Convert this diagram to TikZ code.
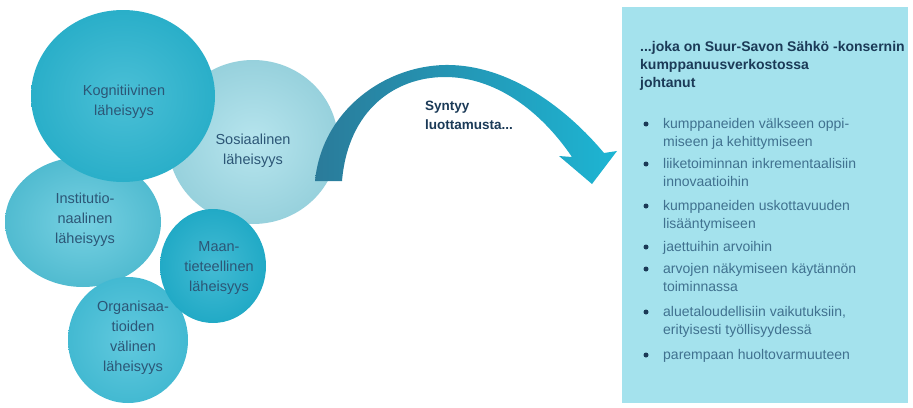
\documentclass[tikz,border=0pt]{standalone}
\usepackage{fontspec}
\setmainfont{Liberation Sans}
\usetikzlibrary{shapes.geometric}
\definecolor{kogc}{HTML}{2BB4CF}
\definecolor{sosc}{HTML}{9FDCE8}
\definecolor{instc}{HTML}{55C5DB}
\definecolor{maanc}{HTML}{22AFCC}
\definecolor{orgc}{HTML}{45BFD8}
\definecolor{boxc}{HTML}{A4E2ED}
\definecolor{arrL}{HTML}{2A7B9A}
\definecolor{arrM}{HTML}{2694B9}
\definecolor{arrR}{HTML}{1DB5D3}
\definecolor{headc}{HTML}{1B3A57}
\definecolor{listc}{HTML}{40718F}
\definecolor{labc}{HTML}{2C5676}
\begin{document}
\begin{tikzpicture}[x=1pt,y=-1pt,
  bubble/.style={ellipse, inner sep=0pt, draw=none},
  blabel/.style={align=center, text=labc, inner sep=0pt, font=\fontsize{14.5}{20}\selectfont},
  bul/.style={circle, fill=headc, inner sep=0pt, minimum size=5pt},
  item/.style={anchor=north west, align=left, inner sep=0pt, text=listc, font=\fontsize{14}{18}\selectfont}]
\useasboundingbox (0,0) rectangle (913,407);
% bubbles
\node[bubble, minimum width=170pt, minimum height=164pt, shade, inner color=sosc!75!white, outer color=sosc!95!black] (sos) at (253,142) {};
\node[bubble, minimum width=156pt, minimum height=130pt, shade, inner color=instc!80!white, outer color=instc!95!black] (inst) at (83,222) {};
\node[bubble, minimum width=184pt, minimum height=172pt, shade, inner color=kogc!85!white, outer color=kogc!97!black] (kog) at (123,96) {};
\node[bubble, minimum width=120pt, minimum height=126pt, shade, inner color=orgc!85!white, outer color=orgc!97!black] (org) at (128,340) {};
\node[bubble, minimum width=106pt, minimum height=114pt, shade, inner color=maanc!85!white, outer color=maanc!97!black] (maan) at (213,266) {};
% labels
\node[blabel] (kogT) at (124,102) {Kognitiivinen\\läheisyys};
\node[blabel] (sosT) at (253,151) {Sosiaalinen\\läheisyys};
\node[blabel] (instT) at (85,220) {Institutio-\\naalinen\\läheisyys};
\node[blabel] (maanT) at (219,268) {Maan-\\tieteellinen\\läheisyys};
\node[blabel] (orgT) at (133,338) {Organisaa-\\tioiden\\välinen\\läheisyys};
% arrow
\coordinate (aStart) at (315,181);
\coordinate (aTip) at (592,184);
\shade[left color=arrL, middle color=arrM, right color=arrR]
  (aStart) .. controls (322,110) and (385,66) .. (445,65)
  .. controls (510,64) and (568,110) .. (604,153)
  -- (617,151) -- (aTip) -- (559,156) -- (572,157)
  .. controls (540,110) and (495,77) .. (445,77)
  .. controls (395,77) and (348,110) .. (342,181) -- cycle;
\node[anchor=north west, align=left, inner sep=0pt, text=headc, font=\bfseries\fontsize{13.5}{19}\selectfont] (synt) at (425,97) {\strut Syntyy\\luottamusta...};
% box
\node[fill=boxc, anchor=north west, inner sep=0pt, minimum width=286pt, minimum height=396pt] (box) at (622,7) {};
\node[anchor=north west, align=left, inner sep=0pt, text=headc, font=\bfseries\fontsize{14}{18}\selectfont] (head) at (640,39) {\strut...joka on Suur-Savon Sähkö -konsernin\\kumppanuusverkostossa\\johtanut};
\node[bul] (b1) at (646,124) {};
\node[item] (i1) at (663,116) {\strut kumppaneiden välkseen oppi-\\miseen ja kehittymiseen};
\node[bul] (b2) at (646,164) {};
\node[item] (i2) at (663,156) {\strut liiketoiminnan inkrementaalisiin\\innovaatioihin};
\node[bul] (b3) at (646,206) {};
\node[item] (i3) at (663,198) {\strut kumppaneiden uskottavuuden\\lisääntymiseen};
\node[bul] (b4) at (646,247) {};
\node[item] (i4) at (663,239) {\strut jaettuihin arvoihin};
\node[bul] (b5) at (646,269) {};
\node[item] (i5) at (663,261) {\strut arvojen näkymiseen käytännön\\toiminnassa};
\node[bul] (b6) at (646,312) {};
\node[item] (i6) at (663,304) {\strut aluetaloudellisiin vaikutuksiin,\\erityisesti työllisyydessä};
\node[bul] (b7) at (646,355) {};
\node[item] (i7) at (663,347) {\strut parempaan huoltovarmuuteen};
\end{tikzpicture}
\end{document}
